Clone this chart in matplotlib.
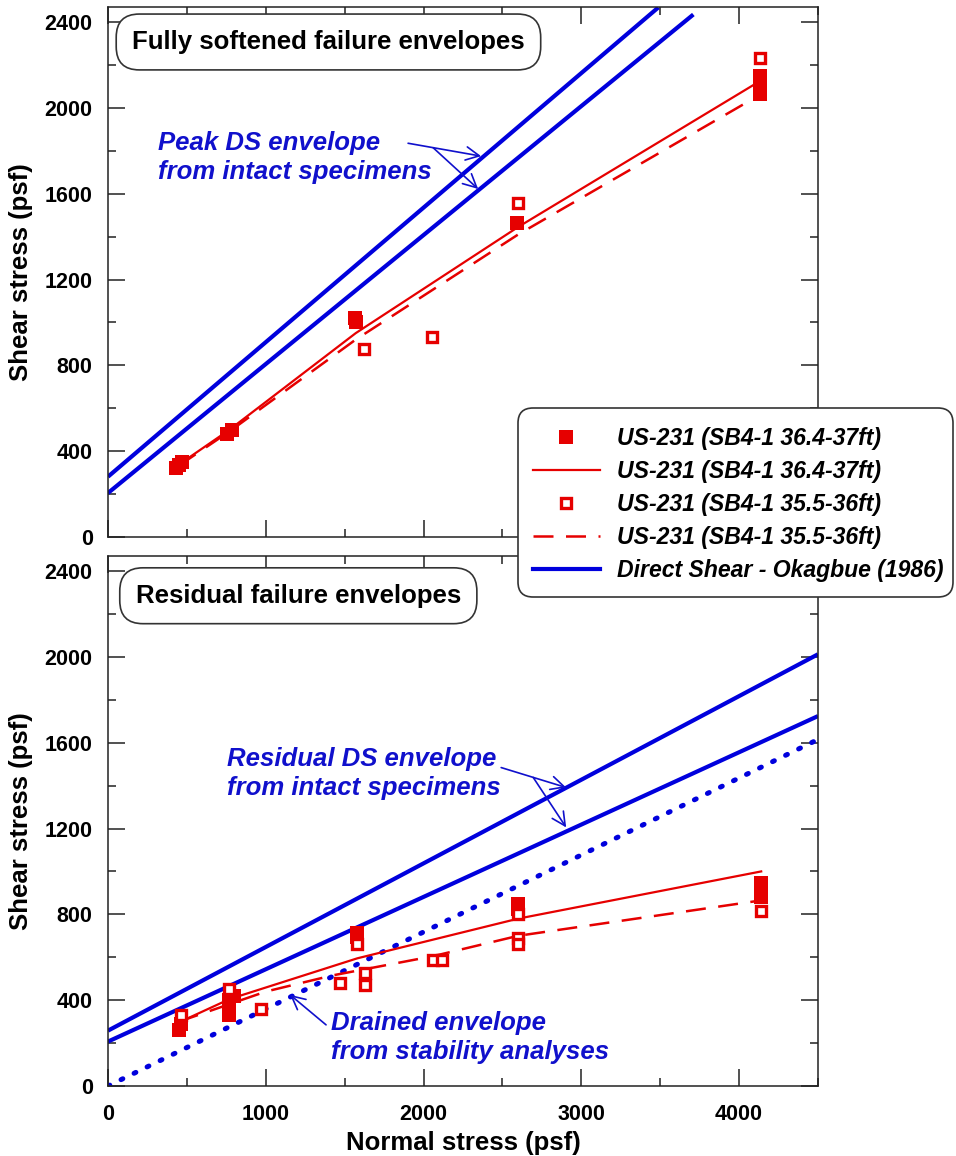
import matplotlib
matplotlib.use("Agg")
import matplotlib.pyplot as plt
from matplotlib.lines import Line2D
from matplotlib.patches import FancyBboxPatch
from matplotlib.transforms import IdentityTransform

plt.rcParams['font.family'] = ['Liberation Sans', 'DejaVu Sans']

RED = '#e60000'
BLUE = '#0000dd'
TXTBLUE = '#1010cc'
EDGE = '#222222'

# ---------------- data: fully softened (top) ----------------
fs_filled_x = [428, 468, 450, 755, 785, 1565, 1570, 2595, 4130, 4130, 4130]
fs_filled_y = [322, 350, 335, 480, 500, 1020, 1000, 1465, 2150, 2100, 2065]
fs_open_x = [1620, 2055, 2600, 4130]
fs_open_y = [875, 930, 1555, 2230]
fs_fit1_x = [450, 770, 1570, 2600, 4110]
fs_fit1_y = [338, 500, 950, 1445, 2115]
fs_fit2_x = [450, 770, 1570, 2600, 4130]
fs_fit2_y = [333, 492, 920, 1410, 2060]
fs_ds1_x = [0, 3488]
fs_ds1_y = [281, 2468]
fs_ds2_x = [0, 3710]
fs_ds2_y = [205, 2435]

# ---------------- data: residual (bottom) ----------------
r_filled_x = [450, 460, 770, 770, 770, 800, 1580, 1580, 2600, 2600, 4140, 4140, 4140]
r_filled_y = [262, 290, 330, 365, 400, 420, 715, 695, 850, 825, 945, 915, 880]
r_open_x = [460, 770, 970, 1470, 1580, 1630, 1630, 2060, 2120, 2600, 2600, 2600, 4140]
r_open_y = [330, 450, 360, 480, 660, 525, 470, 585, 585, 800, 690, 660, 815]
r_fit1_x = [460, 770, 1580, 2600, 4140]
r_fit1_y = [300, 405, 595, 780, 1000]
r_fit2_x = [450, 1000, 1420, 2060, 2600, 4140]
r_fit2_y = [300, 440, 515, 605, 700, 865]
r_ds1_x = [0, 4500]
r_ds1_y = [258, 2012]
r_ds2_x = [0, 4500]
r_ds2_y = [207, 1724]
r_drained_x = [0, 4500]
r_drained_y = [0, 1615]

legend_labels = ['US-231 (SB4-1 36.4-37ft)', 'US-231 (SB4-1 36.4-37ft)',
                 'US-231 (SB4-1 35.5-36ft)', 'US-231 (SB4-1 35.5-36ft)',
                 'Direct Shear - Okagbue (1986)']
x_ticks = [0, 1000, 2000, 3000, 4000]
y_ticks = [0, 400, 800, 1200, 1600, 2000, 2400]

W, H = 956, 1156
fig = plt.figure(figsize=(W / 100, H / 100), dpi=100)

def px_axes(l, t, r, b):
    return fig.add_axes([l / W, 1 - b / H, (r - l) / W, (b - t) / H])

ax1 = px_axes(108, 7, 818, 537)
ax2 = px_axes(108, 556, 818, 1086)

DASH = (0, (8, 5))
MS_F = 10.5
MS_O = 7
MEW_O = 2.4
FS_TXT = 18.5
FS_TICK = 15.5
FS_LEG = 16.6

def style(ax, show_x):
    ax.set_xlim(0, 4500)
    ax.set_ylim(0, 2470)
    ax.set_xticks(x_ticks)
    ax.set_xticks([500, 1500, 2500, 3500, 4500], minor=True)
    ax.set_yticks(y_ticks)
    ax.set_yticks([200, 600, 1000, 1400, 1800, 2200], minor=True)
    ax.tick_params(which='both', direction='in', top=True, right=True,
                   color=EDGE, width=1.1)
    ax.tick_params(which='major', length=12)
    ax.tick_params(which='minor', length=6)
    ax.tick_params(axis='y', labelsize=FS_TICK, pad=11)
    ax.tick_params(axis='x', labelsize=FS_TICK, pad=13, labelbottom=show_x)
    for lab in ax.get_xticklabels() + ax.get_yticklabels():
        lab.set_fontweight('bold')
    for s in ax.spines.values():
        s.set_color(EDGE)
        s.set_linewidth(1.1)
    ax.set_ylabel('Shear stress (psf)', fontsize=FS_TXT, fontweight='bold')
    ax.yaxis.set_label_coords(-0.105, 0.5)

BOX = dict(boxstyle='round,pad=0.62,rounding_size=0.9', fc='white', ec='#333333', lw=1.2)
TXT = dict(ha='left', va='center', fontsize=FS_TXT, fontweight='bold',
           fontstyle='italic', color=TXTBLUE)
DOTS = (0, (0.4, 2.5))

# ---- top panel ----
ax1.plot(fs_ds1_x, fs_ds1_y, color=BLUE, lw=3.0, solid_capstyle='butt')
ax1.plot(fs_ds2_x, fs_ds2_y, color=BLUE, lw=3.0, solid_capstyle='butt')
ax1.plot(fs_fit1_x, fs_fit1_y, color=RED, lw=1.6)
ax1.plot(fs_fit2_x, fs_fit2_y, color=RED, lw=1.8, linestyle=DASH)
ax1.plot(fs_filled_x, fs_filled_y, 's', color=RED, ms=MS_F, mew=0, clip_on=False)
ax1.plot(fs_open_x, fs_open_y, 's', mfc='white', mec=RED, ms=MS_O, mew=MEW_O, clip_on=False)
style(ax1, False)

ax1.text(0.034, 0.934, 'Fully softened failure envelopes', transform=ax1.transAxes,
         ha='left', va='center', fontsize=FS_TXT, fontweight='bold', color='black',
         bbox=BOX)

ax1.text(317, 1835, 'Peak DS envelope', **TXT)
ax1.text(317, 1700, 'from intact specimens', **TXT)
ap = dict(arrowstyle='->', color=TXTBLUE, lw=1.2, mutation_scale=24, shrinkA=0, shrinkB=0)
ax1.annotate('', xy=(2365, 1775), xytext=(1902, 1835), arrowprops=ap)
ax1.annotate('', xy=(2346, 1622), xytext=(2061, 1814), arrowprops=ap)

# ---- bottom panel ----
ax2.plot(r_ds1_x, r_ds1_y, color=BLUE, lw=3.0, solid_capstyle='butt')
ax2.plot(r_ds2_x, r_ds2_y, color=BLUE, lw=3.0, solid_capstyle='butt')
ax2.plot(r_drained_x, r_drained_y, color=BLUE, lw=3.6, linestyle=DOTS,
         dash_capstyle='round')
ax2.plot(r_fit1_x, r_fit1_y, color=RED, lw=1.6)
ax2.plot(r_fit2_x, r_fit2_y, color=RED, lw=1.8, linestyle=DASH)
ax2.plot(r_filled_x, r_filled_y, 's', color=RED, ms=MS_F, mew=0, clip_on=False)
ax2.plot(r_open_x, r_open_y, 's', mfc='white', mec=RED, ms=MS_O, mew=MEW_O, clip_on=False)
style(ax2, True)
ax2.set_xlabel('Normal stress (psf)', fontsize=FS_TXT, fontweight='bold')
ax2.xaxis.set_label_coords(0.5, -0.085)

ax2.text(0.039, 0.925, 'Residual failure envelopes', transform=ax2.transAxes,
         ha='left', va='center', fontsize=FS_TXT, fontweight='bold', color='black',
         bbox=BOX)

ax2.text(755, 1522, 'Residual DS envelope', **TXT)
ax2.text(755, 1391, 'from intact specimens', **TXT)
ax2.annotate('', xy=(2904, 1391), xytext=(2492, 1484), arrowprops=ap)
ax2.annotate('', xy=(2904, 1205), xytext=(2695, 1438), arrowprops=ap)

ax2.text(1414, 294, 'Drained envelope', **TXT)
ax2.text(1414, 159, 'from stability analyses', **TXT)
ax2.annotate('', xy=(1154, 425), xytext=(1382, 285), arrowprops=ap)

# ---- legend frame (pixel placed) + frameless legend spanning both panels ----
frame = FancyBboxPatch((518, H - 597), 953 - 518, 597 - 408,
                       boxstyle='round,pad=0,rounding_size=15',
                       transform=IdentityTransform(), fc='white', ec='#333333',
                       lw=1.2, zorder=4)
fig.add_artist(frame)

handles = [
    Line2D([], [], ls='none', marker='s', color=RED, ms=MS_F, mew=0),
    Line2D([], [], color=RED, lw=1.6),
    Line2D([], [], ls='none', marker='s', mfc='white', mec=RED, ms=MS_O, mew=MEW_O),
    Line2D([], [], color=RED, lw=1.8, linestyle=DASH),
    Line2D([], [], color=BLUE, lw=3.0),
]
leg = fig.legend(handles, legend_labels, loc='upper left',
                 bbox_to_anchor=(533 / W, 1 - 427.5 / H), borderaxespad=0,
                 prop=dict(family='Liberation Sans', weight='bold', style='italic', size=FS_LEG),
                 numpoints=1, handlelength=2.9, handletextpad=0.74, labelspacing=0.43,
                 borderpad=0, frameon=False)
leg.set_zorder(5)

fig.savefig('out.png', dpi=100)
